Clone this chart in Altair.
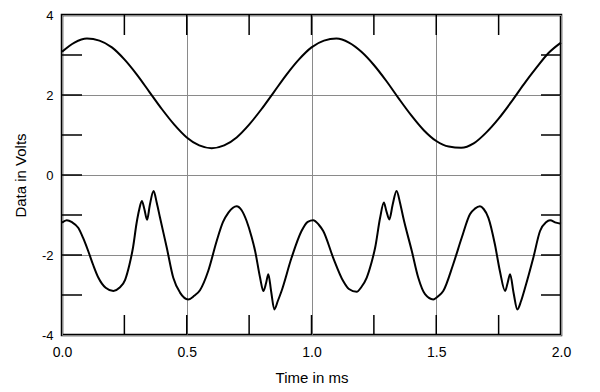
import altair as alt
import pandas as pd

# Upper trace (sine-like)
top_x = [0.00, 0.05, 0.10, 0.15, 0.20, 0.25, 0.30, 0.35, 0.40, 0.45, 0.50,
         0.55, 0.60, 0.65, 0.70, 0.75, 0.80, 0.85, 0.90, 0.95, 1.00,
         1.05, 1.10, 1.15, 1.20, 1.25, 1.30, 1.35, 1.40, 1.45, 1.50,
         1.55, 1.60, 1.65, 1.70, 1.75, 1.80, 1.85, 1.90, 1.95, 2.00]
top_y = [3.08, 3.31, 3.41, 3.36, 3.19, 2.89, 2.51, 2.08, 1.65, 1.26, 0.94,
         0.74, 0.67, 0.74, 0.94, 1.26, 1.65, 2.08, 2.51, 2.89, 3.19,
         3.36, 3.41, 3.31, 3.08, 2.75, 2.35, 1.91, 1.49, 1.12, 0.85,
         0.71, 0.68, 0.79, 1.06, 1.41, 1.82, 2.26, 2.67, 3.05, 3.31]

# Lower trace (distorted waveform)
bot_x = [0.000, 0.019, 0.040, 0.065, 0.085, 0.105, 0.125, 0.146, 0.175, 0.206,
         0.230, 0.253, 0.270, 0.285, 0.299, 0.310, 0.320, 0.330, 0.341, 0.352,
         0.367, 0.380, 0.393, 0.420, 0.446, 0.473, 0.506, 0.530, 0.553, 0.586,
         0.620, 0.645, 0.667, 0.700, 0.720, 0.740, 0.760, 0.774, 0.794, 0.807,
         0.818, 0.827, 0.838, 0.851, 0.865, 0.880, 0.920, 0.960, 0.985, 1.007,
         1.030, 1.047, 1.087, 1.127, 1.150, 1.181, 1.200, 1.221, 1.240, 1.255,
         1.275, 1.290, 1.300, 1.312, 1.325, 1.341, 1.355, 1.368, 1.402, 1.428,
         1.455, 1.488, 1.510, 1.528, 1.568, 1.602, 1.635, 1.655, 1.675, 1.690,
         1.709, 1.735, 1.755, 1.776, 1.786, 1.796, 1.810, 1.825, 1.840, 1.856,
         1.889, 1.916, 1.940, 1.956, 1.980, 2.000]
bot_y = [-1.19, -1.13, -1.18, -1.32, -1.58, -1.90, -2.25, -2.57, -2.82, -2.90,
         -2.82, -2.62, -2.25, -1.80, -1.20, -0.85, -0.65, -0.85, -1.12, -0.75,
         -0.40, -0.70, -1.07, -1.82, -2.57, -2.94, -3.11, -3.02, -2.88, -2.40,
         -1.65, -1.18, -0.94, -0.78, -0.88, -1.15, -1.55, -1.90, -2.57, -2.90,
         -2.70, -2.48, -2.90, -3.36, -3.15, -2.90, -2.07, -1.40, -1.17, -1.13,
         -1.25, -1.40, -2.07, -2.65, -2.85, -2.92, -2.80, -2.57, -2.20, -1.82,
         -1.07, -0.69, -0.90, -1.11, -0.75, -0.40, -0.70, -1.07, -1.90, -2.57,
         -2.98, -3.11, -3.02, -2.90, -2.23, -1.57, -0.98, -0.84, -0.78, -0.85,
         -1.07, -1.73, -2.40, -2.90, -2.70, -2.48, -2.95, -3.36, -3.15, -2.82,
         -2.07, -1.40, -1.18, -1.13, -1.19, -1.22]

x_ticks = [0.25, 0.5, 0.75, 1.0, 1.25, 1.5, 1.75]
y_ticks = [-3, -2, -1, 0, 1, 2, 3]
x_labels = [0.0, 0.5, 1.0, 1.5, 2.0]
y_labels = [-4, -2, 0, 2, 4]

W, H = 499, 320
TL = 20

df_top = pd.DataFrame({"t": top_x, "v": top_y})
df_bot = pd.DataFrame({"t": bot_x, "v": bot_y})
df_xt = pd.DataFrame({"t": x_ticks})
df_yt = pd.DataFrame({"v": y_ticks})

xs = alt.Scale(domain=[0, 2], nice=False, zero=False)
ys = alt.Scale(domain=[-4, 4], nice=False, zero=False)

x_axis = alt.Axis(values=x_labels, format=".1f", title="Time in ms", grid=True,
                  ticks=False, domain=False, labelFlush=False, labelOverlap=False,
                  labelFontSize=14, labelPadding=10, titlePadding=11)
y_axis = alt.Axis(values=y_labels, title="Data in Volts", grid=True,
                  labelExpr="'' + datum.value", labelFontSize=13,
                  ticks=False, domain=False, labelFlush=False, labelOverlap=False,
                  labelPadding=9, titlePadding=13)

base_line = alt.Chart(df_top).mark_line(color="black", strokeWidth=2, interpolate="monotone").encode(
    x=alt.X("t:Q", scale=xs, axis=x_axis),
    y=alt.Y("v:Q", scale=ys, axis=y_axis),
)
low_line = alt.Chart(df_bot).mark_line(color="black", strokeWidth=2, interpolate="monotone").encode(
    x=alt.X("t:Q", scale=xs),
    y=alt.Y("v:Q", scale=ys),
)

tick_top = alt.Chart(df_xt).mark_rule(color="black", strokeWidth=1.5).encode(
    x=alt.X("t:Q", scale=xs), y=alt.value(0), y2=alt.value(TL))
tick_bot = alt.Chart(df_xt).mark_rule(color="black", strokeWidth=1.5).encode(
    x=alt.X("t:Q", scale=xs), y=alt.value(H), y2=alt.value(H - TL))
tick_left = alt.Chart(df_yt).mark_rule(color="black", strokeWidth=1.5).encode(
    y=alt.Y("v:Q", scale=ys), x=alt.value(0), x2=alt.value(TL))
tick_right = alt.Chart(df_yt).mark_rule(color="black", strokeWidth=1.5).encode(
    y=alt.Y("v:Q", scale=ys), x=alt.value(W), x2=alt.value(W - TL))

chart = alt.layer(base_line, low_line, tick_top, tick_bot, tick_left, tick_right).properties(
    width=W, height=H,
    background="white",
    autosize=alt.AutoSizeParams(type="none"),
    padding={"left": 54, "top": 7, "right": 31, "bottom": 57},
).configure_view(
    stroke="black", strokeWidth=2.5
).configure_axis(
    gridColor="#8a8a8a", gridWidth=1, gridOpacity=1,
    labelFont="Liberation Sans", titleFont="Liberation Sans",
    titleFontSize=15, titleFontWeight="normal",
    labelColor="black", titleColor="black",
)

chart.save("out.html", embed_options={"renderer": "svg", "actions": False})
